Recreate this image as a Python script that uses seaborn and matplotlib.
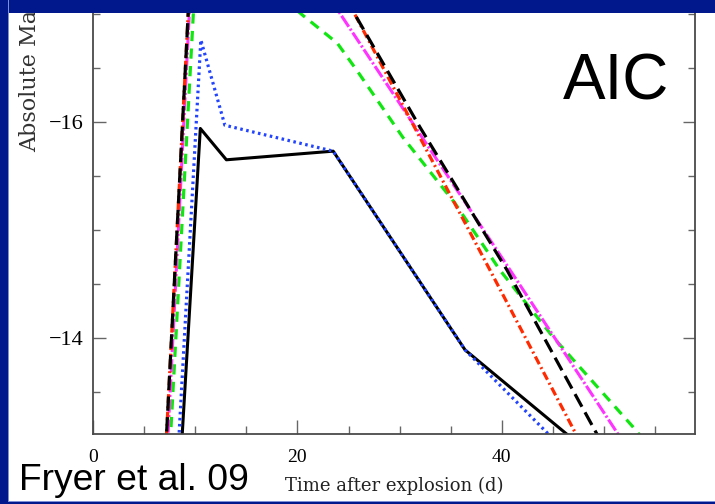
import matplotlib
matplotlib.use("Agg")
import matplotlib.pyplot as plt
from matplotlib.patches import Rectangle
from matplotlib.ticker import MultipleLocator, FixedLocator
import seaborn as sns
import pandas as pd

# ---- data (time in days, absolute magnitude) ----
solid_t = [8.6, 10.5, 13.05, 23.5, 36.4, 47.5]
solid_m = [-12.9, -15.94, -15.65, -15.73, -13.89, -13.02]

dotted_t = [8.3, 10.55, 12.9, 23.5, 36.4, 45.5]
dotted_m = [-12.9, -16.76, -15.97, -15.73, -13.89, -13.02]

green_t = [7.45, 10.1, 13.0, 20.5, 23.9, 25.8, 30.3, 35.4, 39.8, 45.0, 52.8, 53.5]
green_m = [-12.85, -17.5, -17.6, -16.99, -16.73, -16.48, -15.86, -15.25, -14.63, -14.01, -13.18, -13.10]

magenta_t = [7.15, 9.9, 14.0, 19.0, 24.2, 40.8, 51.3, 52.0]
magenta_m = [-12.75, -17.9, -18.6, -17.74, -17.0, -14.63, -13.12, -13.02]

red_t = [7.0, 9.8, 14.0, 21.0, 25.6, 39.0, 47.2, 47.8]
red_m = [-12.75, -17.9, -18.7, -17.85, -17.0, -14.6, -13.12, -13.01]

dashed_t = [7.0, 9.8, 14.0, 21.0, 25.6, 32.0, 40.5, 48.9, 49.6]
dashed_m = [-12.75, -17.9, -18.6, -17.75, -17.0, -15.95, -14.63, -13.18, -13.06]

x_major = [0, 20, 40]
y_major = [-16, -14]

sns.set_theme(style="ticks")
plt.rcParams["font.family"] = ["Liberation Serif", "DejaVu Serif"]
plt.rcParams["axes.unicode_minus"] = True

W, H = 715, 504
fig = plt.figure(figsize=(W / 100, H / 100), dpi=100)
fig.patch.set_facecolor("white")

ax_left, ax_right, ax_bottom, ax_top = 93, 695, 434, -7.6
ax = fig.add_axes([ax_left / W, (H - ax_bottom) / H,
                   (ax_right - ax_left) / W, (ax_bottom - ax_top) / H])
ax.set_facecolor("white")

series = [
    (solid_t, solid_m, "#000000", 2.2, "-"),
    (dotted_t, dotted_m, "#2244FF", 2.3, (0, (0.8, 1.1))),
    (green_t, green_m, "#12E612", 2.3, (0, (3.2, 2.3))),
    (magenta_t, magenta_m, "#FF33FF", 2.2, (0, (4.3, 0.8, 0.7, 0.8))),
    (red_t, red_m, "#FF2A00", 2.3, (0, (2.7, 1.1, 0.6, 1.1))),
    (dashed_t, dashed_m, "#000000", 2.3, (0, (4.5, 2.0))),
]
for t, m, c, lw, ls in series:
    df = pd.DataFrame({"t": t, "m": m})
    n_before = len(ax.lines)
    sns.lineplot(data=df, x="t", y="m", ax=ax, color=c, linewidth=lw,
                 estimator=None, sort=False, legend=False)
    for ln in ax.lines[n_before:]:
        ln.set_linestyle(ls)
        ln.set_solid_capstyle("butt")
        ln.set_dash_capstyle("butt")

ax.xaxis.set_major_locator(FixedLocator(x_major))
ax.xaxis.set_minor_locator(MultipleLocator(5))
ax.yaxis.set_major_locator(FixedLocator(y_major))
ax.yaxis.set_minor_locator(MultipleLocator(0.5))
ax.set_xlim(0, 58.9)
ax.set_ylim(-13.111, -17.2)
ax.set_xlabel("")
ax.set_ylabel("")

for side in ["left", "right", "bottom"]:
    ax.spines[side].set_color("#4a4a4a")
    ax.spines[side].set_linewidth(1.3)
ax.spines["top"].set_visible(False)

ax.tick_params(axis="both", which="both", direction="in", colors="#666666",
               labelcolor="black")
ax.tick_params(axis="x", which="major", length=10, width=1.0, pad=11, labelsize=14)
ax.tick_params(axis="x", which="minor", length=6, width=1.0)
ax.tick_params(axis="y", which="major", length=9, width=1.0, pad=7, labelsize=16,
               right=True)
ax.tick_params(axis="y", which="minor", length=5, width=1.0, right=True)
ax.tick_params(axis="x", which="both", top=False)

# labels
fig.text(394 / W, 1 - 486 / H, "Time after explosion (d)", ha="center", va="center",
         fontsize=13, family=["DejaVu Serif"], color="#222222")
fig.text(30 / W, 1 - 152 / H, "Absolute Magnitude", rotation=90, ha="center",
         va="bottom", fontsize=16, family=["DejaVu Serif"], color="#333333")
fig.text(563 / W, 1 - 100 / H, "AIC", ha="left", va="baseline", fontsize=46,
         family=["Liberation Sans", "DejaVu Sans"], color="black")
fig.text(19 / W, 1 - 490 / H, "Fryer et al. 09", ha="left", va="baseline",
         fontsize=26.8, family=["Liberation Sans", "DejaVu Sans"], color="black")

# slide frame
blue = "#00188C"
fig.add_artist(Rectangle((0, 1 - 12.7 / H), 1, 12.7 / H, transform=fig.transFigure,
                         facecolor=blue, edgecolor="none", zorder=20))
fig.add_artist(Rectangle((0, 0), 7.5 / W, 1, transform=fig.transFigure,
                         facecolor=blue, edgecolor="none", zorder=20))
fig.add_artist(Rectangle((7.5 / W, 0), 1.2 / W, 1, transform=fig.transFigure,
                         facecolor="#7f8fd6", edgecolor="none", zorder=20))
fig.add_artist(Rectangle((0, 0), 1, 2.5 / H, transform=fig.transFigure,
                         facecolor=blue, edgecolor="none", zorder=20))
fig.add_artist(Rectangle((7.5 / W, 2.5 / H), 1, 1.0 / H, transform=fig.transFigure,
                         facecolor="#7f8fd6", edgecolor="none", zorder=20))

fig.savefig("out.png", dpi=100, facecolor="white")
